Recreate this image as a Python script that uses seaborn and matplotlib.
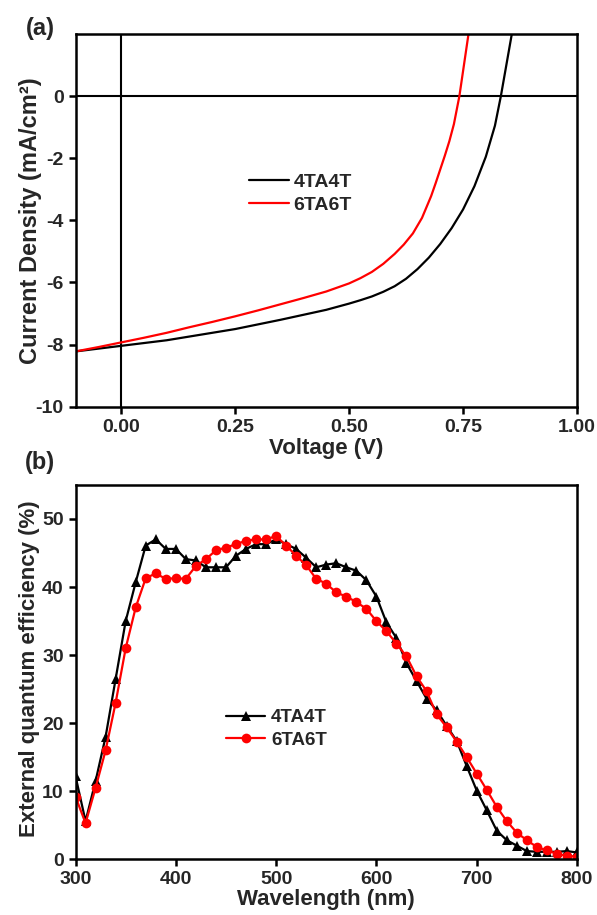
import numpy as np
import pandas as pd
import matplotlib
matplotlib.use("Agg")
import matplotlib.pyplot as plt
import seaborn as sns

# ---- (a) J-V curves ----
v_4ta4t = [-0.10, -0.05, 0.00, 0.05, 0.10, 0.15, 0.20, 0.25, 0.30, 0.35, 0.40, 0.45,
           0.50, 0.525, 0.55, 0.575, 0.60, 0.625, 0.65, 0.675, 0.70, 0.725, 0.75,
           0.775, 0.80, 0.82, 0.833, 0.845, 0.857]
j_4ta4t = [-8.22, -8.13, -8.04, -7.95, -7.86, -7.74, -7.62, -7.50, -7.35, -7.20, -7.04, -6.88,
           -6.68, -6.57, -6.45, -6.30, -6.12, -5.88, -5.57, -5.20, -4.76, -4.25, -3.65,
           -2.90, -1.95, -0.95, 0.00, 1.00, 2.00]

v_6ta6t = [-0.10, -0.05, 0.00, 0.05, 0.10, 0.15, 0.20, 0.25, 0.30, 0.35, 0.40, 0.45,
           0.50, 0.525, 0.55, 0.575, 0.60, 0.62, 0.64, 0.66, 0.68, 0.69, 0.70, 0.71,
           0.72, 0.73, 0.742, 0.752, 0.762]
j_6ta6t = [-8.22, -8.08, -7.93, -7.78, -7.62, -7.44, -7.27, -7.09, -6.90, -6.70, -6.50, -6.29,
           -6.03, -5.86, -5.66, -5.40, -5.08, -4.78, -4.42, -3.92, -3.22, -2.80, -2.36, -1.92,
           -1.45, -0.90, 0.00, 1.00, 2.00]

v_ticks = [0.00, 0.25, 0.50, 0.75, 1.00]
v_ticklabels = ["0.00", "0.25", "0.50", "0.75", "1.00"]
j_ticks = [0, -2, -4, -6, -8, -10]

# ---- (b) EQE spectra ----
wavelength = list(range(300, 801, 10))
eqe_4ta4t = [12.2, 5.6, 11.5, 18.0, 26.5, 35.0, 40.7, 46.1, 47.0, 45.6, 45.6, 44.1,
             43.9, 42.9, 42.9, 42.9, 44.6, 45.6, 46.3, 46.3, 47.0, 46.3, 45.6, 44.3,
             42.9, 43.3, 43.5, 42.9, 42.4, 41.0, 38.6, 34.8, 32.5, 28.8, 26.2, 23.6,
             21.9, 19.6, 17.4, 13.7, 10.1, 7.2, 4.2, 2.8, 2.0, 1.2, 1.1, 1.1, 1.1, 1.2, 1.0]
eqe_6ta6t = [9.2, 5.3, 10.5, 16.0, 23.0, 31.0, 37.0, 41.3, 42.0, 41.2, 41.3, 41.2,
             43.1, 44.1, 45.4, 45.8, 46.3, 46.8, 47.0, 47.0, 47.5, 46.1, 44.6, 43.2,
             41.2, 40.5, 39.2, 38.6, 37.8, 36.8, 35.0, 33.5, 31.7, 29.8, 26.9, 24.7,
             21.3, 19.4, 17.3, 15.0, 12.6, 10.2, 7.7, 5.6, 3.9, 2.8, 1.8, 1.3, 0.8, 0.5, 0.4]

sns.set_style("ticks")
plt.rcParams["font.family"] = ["Liberation Sans", "DejaVu Sans"]
plt.rcParams["font.weight"] = "bold"
plt.rcParams["axes.labelweight"] = "bold"
plt.rcParams["axes.unicode_minus"] = False

fig = plt.figure(figsize=(5.97, 9.15), dpi=100)
ax1 = fig.add_axes([0.1265, 0.5555, 0.840, 0.4073])
ax2 = fig.add_axes([0.1265, 0.0609, 0.840, 0.4091])

# panel (a)
ax1.axhline(0, color="black", lw=1.5, zorder=1)
ax1.axvline(0, color="black", lw=1.5, zorder=1)
sns.lineplot(x=v_4ta4t, y=j_4ta4t, ax=ax1, color="black", lw=1.6, sort=False, label="4TA4T")
sns.lineplot(x=v_6ta6t, y=j_6ta6t, ax=ax1, color="#ff0000", lw=1.6, sort=False, label="6TA6T")
ax1.set_xlim(-0.1, 1.0)
ax1.set_ylim(-10, 2)
ax1.set_xticks(v_ticks)
ax1.set_xticklabels(v_ticklabels)
ax1.set_yticks(j_ticks)
ax1.set_xlabel("Voltage (V)", fontsize=16, fontweight="bold", labelpad=2)
ax1.set_ylabel("Current Density (mA/cm\u00b2)", fontsize=17, fontweight="bold", va="center")
ax1.yaxis.set_label_coords(-0.09, 0.5)
ax1.legend(loc="center left", bbox_to_anchor=(0.345, 0.572), frameon=False,
           prop={"size": 14, "weight": "bold"}, handlelength=2.1, handletextpad=0.2,
           labelspacing=0.25, borderpad=0, borderaxespad=0)

# panel (b)
sns.lineplot(x=wavelength, y=eqe_4ta4t, ax=ax2, color="black", lw=1.6, marker="^",
             markersize=7.5, markeredgewidth=0, label="4TA4T")
sns.lineplot(x=wavelength, y=eqe_6ta6t, ax=ax2, color="#ff0000", lw=1.6, marker="o",
             markersize=7, markeredgewidth=0, label="6TA6T")
ax2.set_xlim(300, 800)
ax2.set_ylim(0, 55)
ax2.set_xticks(range(300, 801, 100))
ax2.set_yticks(range(0, 51, 10))
ax2.set_xlabel("Wavelength (nm)", fontsize=16, fontweight="bold", labelpad=1)
ax2.set_ylabel("External quantum efficiency (%)", fontsize=16, fontweight="bold", va="center")
ax2.yaxis.set_label_coords(-0.092, 0.508)
ax2.legend(loc="center left", bbox_to_anchor=(0.30, 0.348), frameon=False,
           prop={"size": 13.5, "weight": "bold"}, handlelength=2.1, handletextpad=0.3,
           labelspacing=0.3, borderpad=0, borderaxespad=0)

for ax in (ax1, ax2):
    for s in ax.spines.values():
        s.set_linewidth(1.8)
        s.set_color("black")
    ax.tick_params(axis="both", direction="out", length=5, width=1.8, labelsize=14,
                   top=False, right=False, color="black")
    for lab in ax.get_xticklabels() + ax.get_yticklabels():
        lab.set_fontweight("bold")

fig.text(0.067, 0.969, "(a)", fontsize=17, fontweight="bold", ha="center", va="center")
fig.text(0.067, 0.495, "(b)", fontsize=17, fontweight="bold", ha="center", va="center")

fig.savefig("out.png", dpi=100)
